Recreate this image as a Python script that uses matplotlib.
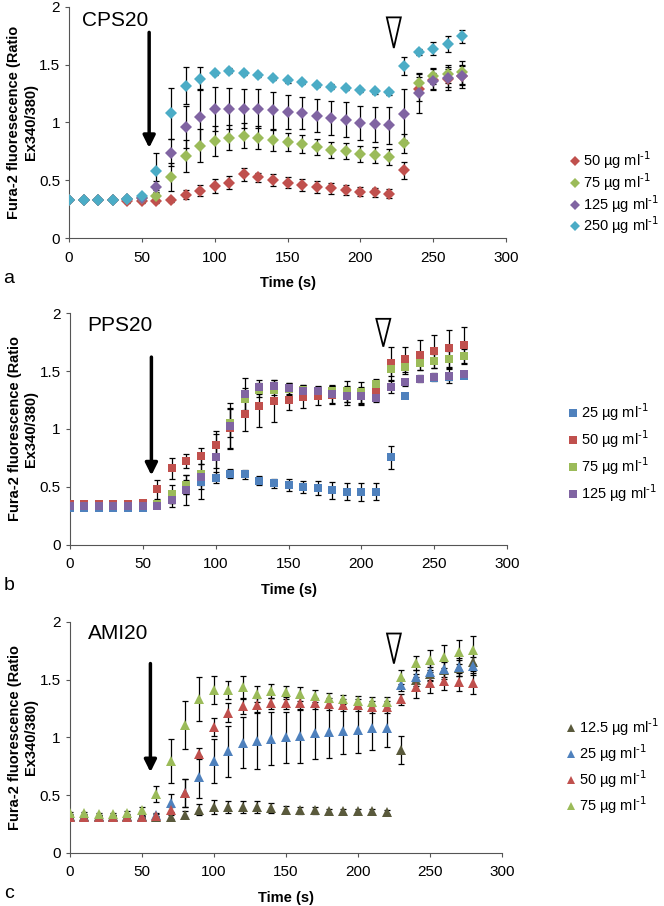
import numpy as np
import matplotlib.pyplot as plt
from matplotlib.patches import Polygon

plt.rcParams['font.family'] = ['Liberation Sans', 'DejaVu Sans']

# ---- panel a: CPS20 (diamonds) ----
t_a = np.arange(0, 271, 10)
cps_labels = ['50', '75', '125', '250']
cps_colors = ['#C0504D', '#9BBB59', '#8064A2', '#4BACC6']
cps_50 = [0.33, 0.33, 0.33, 0.33, 0.32, 0.32, 0.32, 0.33, 0.375, 0.41, 0.45, 0.48, 0.55, 0.525,
          0.50, 0.48, 0.46, 0.44, 0.43, 0.415, 0.40, 0.395, 0.385, 0.585, 1.29, 1.37, 1.38, 1.40]
cps_50_err = [0.01, 0.01, 0.01, 0.01, 0.02, 0.02, 0.02, 0.02, 0.04, 0.05, 0.06, 0.06, 0.06, 0.04,
              0.05, 0.05, 0.05, 0.05, 0.05, 0.04, 0.04, 0.04, 0.04, 0.07, 0.1, 0.09, 0.1, 0.1]
cps_75 = [0.33, 0.33, 0.33, 0.33, 0.34, 0.35, 0.365, 0.53, 0.71, 0.80, 0.84, 0.87, 0.885, 0.87,
          0.845, 0.83, 0.815, 0.79, 0.765, 0.75, 0.73, 0.715, 0.70, 0.82, 1.34, 1.40, 1.42, 1.435]
cps_75_err = [0.01, 0.01, 0.01, 0.01, 0.01, 0.02, 0.03, 0.12, 0.14, 0.14, 0.13, 0.11, 0.11, 0.1,
              0.09, 0.08, 0.08, 0.07, 0.07, 0.07, 0.07, 0.07, 0.07, 0.08, 0.08, 0.07, 0.08, 0.1]
cps_125 = [0.33, 0.33, 0.33, 0.33, 0.34, 0.35, 0.44, 0.74, 0.96, 1.05, 1.12, 1.12, 1.12, 1.12,
           1.105, 1.09, 1.08, 1.06, 1.04, 1.025, 0.995, 0.985, 0.975, 1.07, 1.255, 1.36, 1.385, 1.405]
cps_125_err = [0.01, 0.01, 0.01, 0.01, 0.01, 0.02, 0.05, 0.12, 0.18, 0.24, 0.19, 0.18, 0.17, 0.17,
               0.16, 0.15, 0.14, 0.14, 0.15, 0.15, 0.15, 0.15, 0.16, 0.22, 0.17, 0.07, 0.08, 0.08]
cps_250 = [0.33, 0.33, 0.33, 0.33, 0.34, 0.36, 0.577, 1.08, 1.32, 1.38, 1.43, 1.45, 1.43, 1.41,
           1.385, 1.365, 1.35, 1.325, 1.31, 1.30, 1.28, 1.27, 1.26, 1.49, 1.61, 1.64, 1.68, 1.745]
cps_250_err = [0.01, 0.01, 0.01, 0.01, 0.01, 0.02, 0.16, 0.22, 0.16, 0.10, 0.02, 0.02, 0.02, 0.02,
               0.02, 0.02, 0.02, 0.02, 0.02, 0.02, 0.02, 0.02, 0.02, 0.08, 0.03, 0.06, 0.07, 0.06]

# ---- panel b: PPS20 (squares) ----
t_b = np.arange(0, 271, 10)
pps_labels = ['25', '50', '75', '125']
pps_colors = ['#4F81BD', '#C0504D', '#9BBB59', '#8064A2']
pps_25 = [0.32, 0.32, 0.32, 0.32, 0.32, 0.32, 0.34, 0.415, 0.50, 0.545, 0.58, 0.615, 0.61, 0.555,
          0.53, 0.515, 0.50, 0.49, 0.47, 0.46, 0.455, 0.46, 0.755, 1.285, 1.43, 1.44, 1.45, 1.46]
pps_25_err = [0.01, 0.01, 0.01, 0.01, 0.01, 0.01, 0.02, 0.05, 0.06, 0.06, 0.05, 0.04, 0.04, 0.04,
              0.04, 0.05, 0.05, 0.06, 0.07, 0.07, 0.08, 0.07, 0.1, 0.02, 0.02, 0.03, 0.03, 0.02]
pps_50 = [0.35, 0.35, 0.35, 0.35, 0.35, 0.36, 0.48, 0.66, 0.725, 0.77, 0.86, 1.01, 1.13, 1.20,
          1.24, 1.25, 1.28, 1.285, 1.295, 1.30, 1.285, 1.335, 1.565, 1.60, 1.64, 1.67, 1.695, 1.72]
pps_50_err = [0.01, 0.01, 0.01, 0.01, 0.01, 0.02, 0.08, 0.09, 0.06, 0.07, 0.12, 0.17, 0.15, 0.18,
              0.18, 0.09, 0.1, 0.08, 0.08, 0.07, 0.07, 0.08, 0.14, 0.11, 0.13, 0.14, 0.16, 0.16]
pps_75 = [0.34, 0.34, 0.34, 0.34, 0.34, 0.34, 0.35, 0.44, 0.52, 0.61, 0.76, 1.05, 1.255, 1.34,
          1.34, 1.345, 1.335, 1.33, 1.325, 1.325, 1.315, 1.39, 1.52, 1.535, 1.57, 1.585, 1.60, 1.63]
pps_75_err = [0.01, 0.01, 0.01, 0.01, 0.01, 0.01, 0.02, 0.08, 0.08, 0.09, 0.1, 0.12, 0.1, 0.06,
              0.05, 0.05, 0.04, 0.04, 0.05, 0.09, 0.09, 0.04, 0.06, 0.06, 0.06, 0.06, 0.07, 0.06]
pps_125 = [0.34, 0.34, 0.34, 0.34, 0.34, 0.34, 0.34, 0.39, 0.475, 0.59, 0.76, 1.025, 1.30, 1.36,
           1.37, 1.35, 1.33, 1.325, 1.30, 1.285, 1.285, 1.27, 1.36, 1.405, 1.435, 1.45, 1.455, 1.47]
pps_125_err = [0.01, 0.01, 0.01, 0.01, 0.01, 0.01, 0.02, 0.06, 0.13, 0.19, 0.2, 0.2, 0.14, 0.06,
               0.05, 0.05, 0.05, 0.04, 0.08, 0.08, 0.08, 0.04, 0.05, 0.03, 0.03, 0.03, 0.06, 0.03]

# ---- panel c: AMI20 (triangles) ----
t_c = np.arange(0, 281, 10)
ami_labels = ['12.5', '25', '50', '75']
ami_colors = ['#5A5A3C', '#4F81BD', '#C0504D', '#9BBB59']
ami_12 = [0.32, 0.32, 0.32, 0.32, 0.32, 0.32, 0.31, 0.31, 0.33, 0.375, 0.40, 0.40, 0.40, 0.40,
          0.39, 0.375, 0.37, 0.37, 0.36, 0.36, 0.36, 0.36, 0.355, 0.89, 1.50, 1.55, 1.58, 1.60, 1.655]
ami_12_err = [0.01, 0.01, 0.01, 0.01, 0.01, 0.01, 0.01, 0.02, 0.03, 0.05, 0.06, 0.05, 0.05, 0.05,
              0.04, 0.03, 0.03, 0.03, 0.02, 0.02, 0.02, 0.02, 0.02, 0.12, 0.05, 0.06, 0.07, 0.07, 0.08]
ami_25 = [0.31, 0.31, 0.31, 0.31, 0.31, 0.31, 0.33, 0.435, 0.52, 0.66, 0.80, 0.88, 0.955, 0.97,
          0.99, 1.00, 1.01, 1.04, 1.045, 1.06, 1.065, 1.08, 1.085, 1.455, 1.525, 1.57, 1.59, 1.61, 1.62]
ami_25_err = [0.01, 0.01, 0.01, 0.01, 0.01, 0.01, 0.02, 0.08, 0.12, 0.18, 0.19, 0.22, 0.22, 0.24,
              0.23, 0.22, 0.23, 0.23, 0.22, 0.2, 0.2, 0.19, 0.17, 0.05, 0.06, 0.07, 0.07, 0.08, 0.08]
ami_50 = [0.31, 0.31, 0.31, 0.31, 0.31, 0.31, 0.32, 0.37, 0.52, 0.86, 1.09, 1.215, 1.27, 1.28,
          1.295, 1.30, 1.30, 1.295, 1.29, 1.28, 1.28, 1.265, 1.265, 1.33, 1.435, 1.475, 1.49, 1.48, 1.47]
ami_50_err = [0.01, 0.01, 0.01, 0.01, 0.01, 0.01, 0.02, 0.03, 0.12, 0.05, 0.08, 0.08, 0.07, 0.06,
              0.05, 0.05, 0.05, 0.05, 0.05, 0.05, 0.05, 0.05, 0.05, 0.05, 0.09, 0.09, 0.08, 0.08, 0.09]
ami_75 = [0.345, 0.345, 0.34, 0.34, 0.35, 0.37, 0.51, 0.80, 1.11, 1.33, 1.41, 1.41, 1.435, 1.38,
          1.40, 1.39, 1.38, 1.36, 1.345, 1.33, 1.32, 1.31, 1.31, 1.52, 1.645, 1.67, 1.70, 1.74, 1.76]
ami_75_err = [0.01, 0.01, 0.01, 0.01, 0.01, 0.03, 0.07, 0.19, 0.21, 0.19, 0.12, 0.08, 0.1, 0.07,
              0.06, 0.06, 0.06, 0.05, 0.04, 0.04, 0.04, 0.04, 0.04, 0.06, 0.06, 0.09, 0.1, 0.1, 0.12]

panels = [
    dict(t=t_a, ys=[cps_50, cps_75, cps_125, cps_250],
         errs=[cps_50_err, cps_75_err, cps_125_err, cps_250_err],
         labels=cps_labels, colors=cps_colors, marker='D', ms=6.5, name='CPS20', letter='a',
         ylab='Fura-2 fluoresecence (Ratio\nEx340/380)', title_xy=(9, 1.88),
         arrow=(55, 1.78, 0.78), tri=(223, 1.91, 1.645),
         rect=[0.104, 0.7373, 0.658, 0.2550], leg=(0.858, 0.7870, 0.0)),
    dict(t=t_b, ys=[pps_25, pps_50, pps_75, pps_125],
         errs=[pps_25_err, pps_50_err, pps_75_err, pps_125_err],
         labels=pps_labels, colors=pps_colors, marker='s', ms=6, name='PPS20', letter='b',
         ylab='Fura-2 fluorescence (Ratio\nEx340/380)', title_xy=(12, 1.89),
         arrow=(56, 1.62, 0.60), tri=(215, 1.95, 1.71),
         rect=[0.105, 0.3985, 0.659, 0.2560], leg=(0.855, 0.5000, 0.36)),
    dict(t=t_c, ys=[ami_12, ami_25, ami_50, ami_75],
         errs=[ami_12_err, ami_25_err, ami_50_err, ami_75_err],
         labels=ami_labels, colors=ami_colors, marker='^', ms=7.5, name='AMI20', letter='c',
         ylab='Fura-2 fluorescence (Ratio\nEx340/380)', title_xy=(13, 1.90),
         arrow=(56, 1.64, 0.70), tri=(225, 1.90, 1.64),
         rect=[0.105, 0.0585, 0.651, 0.2550], leg=(0.852, 0.1545, 0.29)),
]

fig = plt.figure(figsize=(6.64, 9.06), dpi=100)

for p in panels:
    ax = fig.add_axes(p['rect'])
    for y, e, lab, c in zip(p['ys'], p['errs'], p['labels'], p['colors']):
        ax.errorbar(p['t'], y, yerr=e, fmt='none', ecolor='black', elinewidth=0.9,
                    capsize=2.5, capthick=0.9, zorder=2)
        ax.plot(p['t'], y, linestyle='none', marker=p['marker'], ms=p['ms'], color=c,
                markeredgewidth=0, label=lab + r' µg ml$^{\text{-}1}$', zorder=3)

    ax.set_xlim(0, 300)
    ax.set_ylim(0, 2)
    ax.set_xticks(np.arange(0, 301, 50))
    ax.set_yticks([0, 0.5, 1, 1.5, 2])
    ax.set_yticklabels(['0', '0.5', '1', '1.5', '2'])
    for s in ['top', 'right']:
        ax.spines[s].set_visible(False)
    for s in ['left', 'bottom']:
        ax.spines[s].set_color('#555555')
    ax.tick_params(direction='out', length=3, colors='#555555', labelcolor='black',
                   labelsize=11)
    ax.tick_params(axis='x', pad=6)
    ax.set_xlabel('Time (s)', fontweight='bold', fontsize=10.5, labelpad=8)
    ax.set_ylabel(p['ylab'], fontweight='bold', fontsize=10.5, labelpad=1)

    ax.text(p['title_xy'][0], p['title_xy'][1], p['name'], fontsize=15, va='center', ha='left')

    ax_x, y0, y1 = p['arrow']
    ax.annotate('', xy=(ax_x, y1), xytext=(ax_x, y0),
                arrowprops=dict(arrowstyle='-|>', lw=2.5, color='black', mutation_scale=18,
                                shrinkA=0, shrinkB=0))
    tx, ty0, ty1 = p['tri']
    ax.add_patch(Polygon([[tx - 4.8, ty0], [tx + 4.8, ty0], [tx, ty1]], closed=True,
                         facecolor='white', edgecolor='black', lw=1.3, zorder=4))

    lx, ly, lsp = p['leg']
    ax.legend(loc='center left', bbox_to_anchor=(lx, ly), bbox_transform=fig.transFigure,
              frameon=False, fontsize=10.5, handlelength=0.7, handletextpad=0.2,
              labelspacing=lsp, markerscale=0.85, borderaxespad=0, borderpad=0)

    ax.text(-0.152, -0.175, p['letter'], transform=ax.transAxes, fontsize=14,
            ha='left', va='center')

fig.savefig('out.png', dpi=100)
